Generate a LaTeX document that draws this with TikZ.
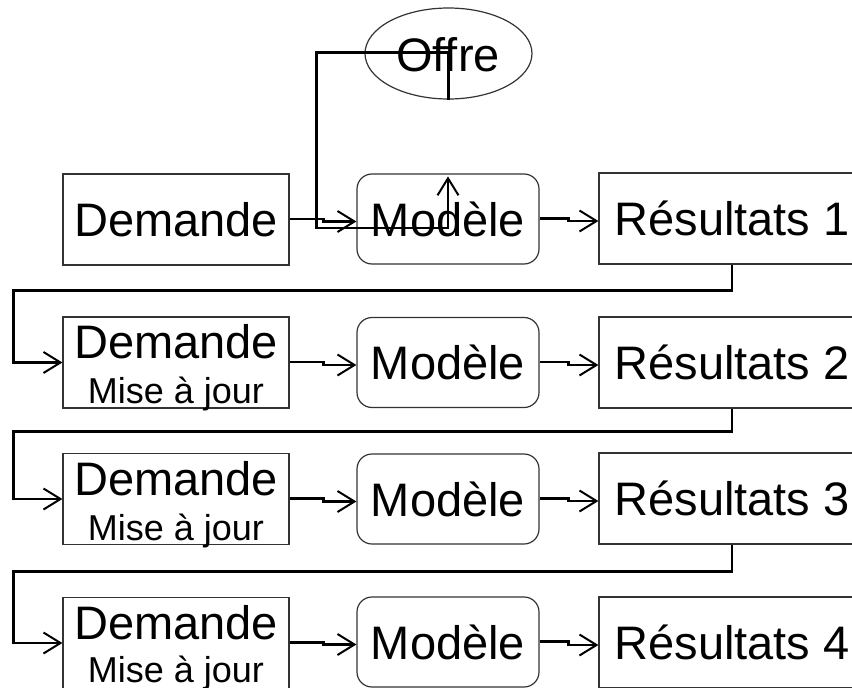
\documentclass[tikz,border=0pt]{standalone}
\usepackage{fontspec}
\setmainfont{Liberation Sans}
\usetikzlibrary{arrows.meta,shapes.geometric}
\begin{document}
\begin{tikzpicture}[x=1pt,y=-1pt,
  big/.style={font=\fontsize{47}{50}\selectfont, inner sep=0pt},
  small/.style={font=\fontsize{36}{38}\selectfont, inner sep=0pt},
  dbox/.style={draw=black!80, line width=1.2pt, minimum width=226pt, minimum height=91pt, inner sep=0pt},
  mbox/.style={draw=black!80, line width=1.2pt, rounded corners=15pt, minimum width=182pt, minimum height=90pt, inner sep=0pt},
  rbox/.style={draw=black!80, line width=1.2pt, minimum width=266pt, minimum height=91pt, inner sep=0pt},
  conn/.style={draw=black, line width=2.4pt},
  arr/.style={conn, -{Straight Barb[length=17pt,width=21pt,line width=2pt]}},
]
\useasboundingbox (0,0) rectangle (852,688);

% Offre
\node[ellipse, draw=black!80, line width=1.2pt, minimum width=167pt, minimum height=91pt, inner sep=0pt] (o) at (448.5,53.5) {};
\node[big] (ot) at (448,55) {Offre};

% Row 1
\node[dbox, big] (d1) at (176,219.5) {Demande};
\node[mbox, big] (m1) at (448,219) {Modèle};
\node[rbox, big] (r1) at (732,218.5) {Résultats 1};

% Rows 2-4
\node[dbox] (d2) at (176,362.5) {};
\node[big, anchor=base] (d2a) at ([yshift=4.5pt]d2.center) {Demande};
\node[small, anchor=base] (d2b) at ([yshift=-40.5pt]d2.center) {Mise à jour};
\node[mbox, big] (m2) at (448,362.5) {Modèle};
\node[rbox, big] (r2) at (732,362.5) {Résultats 2};

\node[dbox] (d3) at (176,499) {};
\node[big, anchor=base] (d3a) at ([yshift=4pt]d3.center) {Demande};
\node[small, anchor=base] (d3b) at ([yshift=-41pt]d3.center) {Mise à jour};
\node[mbox, big] (m3) at (448,499) {Modèle};
\node[rbox, big] (r3) at (732,498.5) {Résultats 3};

\node[dbox] (d4) at (176,643) {};
\node[big, anchor=base] (d4a) at ([yshift=4pt]d4.center) {Demande};
\node[small, anchor=base] (d4b) at ([yshift=-39pt]d4.center) {Mise à jour};
\node[mbox, big] (m4) at (448,642) {Modèle};
\node[rbox, big] (r4) at (732,642.5) {Résultats 4};

% Offre -> Modele connector
\draw[arr] (o.south) |- ++(-132,-47) |- ([yshift=-9pt]m1.center) -- ([yshift=-3pt]m1.north);

% Demande -> Modele -> Resultats
\foreach \i in {1,2,3,4}{
  \draw[arr] ([yshift=0.5pt]d\i.east) -- ++(34,0) |- ([yshift=-2.5pt]m\i.west);
  \draw[arr] ([yshift=0.5pt]m\i.east) -- ++(29,0) |- ([yshift=-2.5pt]r\i.west);
}

% Feedback loops
\draw[arr] (r1.south) -- ++(0,26) -| ([xshift=-49pt]d2.west) -- (d2.west);
\draw[arr] (r2.south) -- ++(0,23) -| ([xshift=-49pt]d3.west) -- (d3.west);
\draw[arr] (r3.south) -- ++(0,27) -| ([xshift=-49pt]d4.west) -- (d4.west);
\end{tikzpicture}
\end{document}
